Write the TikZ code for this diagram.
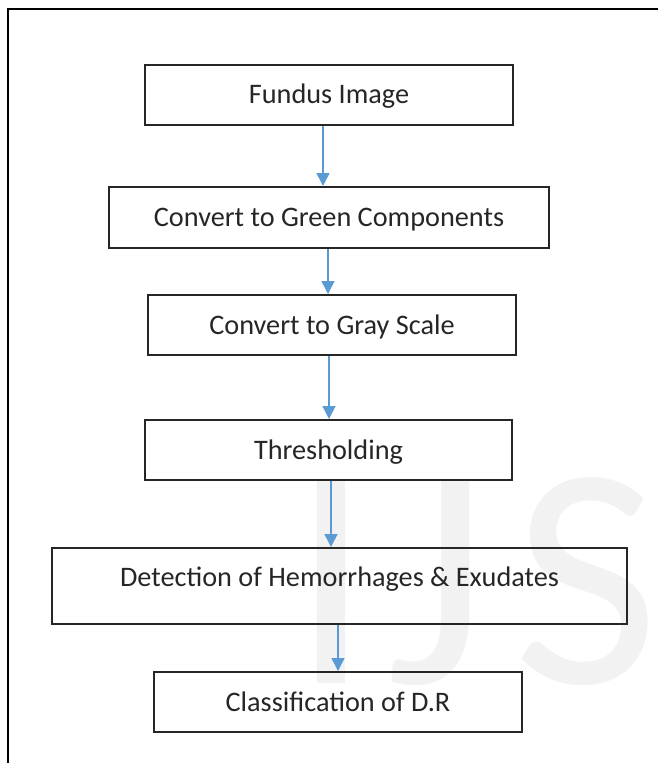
\documentclass[tikz,border=0pt]{standalone}
\usepackage{fontspec}
\setmainfont{Carlito}
\usetikzlibrary{arrows.meta}
\definecolor{arrblue}{RGB}{91,155,213}
\definecolor{wmgray}{RGB}{242,242,242}
\begin{document}
\begin{tikzpicture}[x=0.75pt,y=-0.75pt,
  stepbox/.style={draw=black!85, line width=1.5pt, minimum height=45pt, inner xsep=0pt,
    inner ysep=0pt, text height=29.25pt, text depth=15.75pt,
    font=\fontsize{21.2}{25}\selectfont, text=black!85},
  arr/.style={draw=arrblue, line width=1.125pt, -{Triangle[width=9.75pt,length=9.75pt]}, arrblue}]
\useasboundingbox (0,0) rectangle (657,763);
% watermark
\node[anchor=base west, text=wmgray, font=\fontsize{238}{238}\selectfont, inner sep=0pt] (wm) at (291,683) {I\kern11.25pt J\kern19.5pt S};
% frame
\draw[line width=1.5pt, black] (8,775) -- (8,9) -- (670,9);
% boxes
\node[stepbox, minimum width=276pt] (b1) at (329,95) {Fundus Image};
\node[stepbox, minimum width=330pt, minimum height=45.75pt] (b2) at (329,217.5) {Convert to Green Components};
\node[stepbox, minimum width=276pt] (b3) at (332,325) {Convert to Gray Scale};
\node[stepbox, minimum width=275.25pt] (b4) at (328.5,450) {Thresholding};
\node[stepbox, minimum width=431.25pt, minimum height=57pt, text height=28.5pt, text depth=28.5pt] (b5) at (339.5,586) {Detection of Hemorrhages \& Exudates};
\node[stepbox, minimum width=276pt] (b6) at (338,702) {Classification of D.R};
% arrows
\draw[arr] ([xshift=-4.5pt]b1.south) -- ([xshift=-4.5pt]b1.south |- b2.north);
\draw[arr] ([xshift=-0.75pt]b2.south) -- ([xshift=-0.75pt]b2.south |- b3.north);
\draw[arr] ([xshift=-2.25pt]b3.south) -- ([xshift=-2.25pt]b3.south |- b4.north);
\draw[arr] ([xshift=1.875pt]b4.south) -- ([xshift=1.875pt]b4.south |- b5.north);
\draw[arr] ([xshift=-1.125pt]b5.south) -- ([xshift=-1.125pt]b5.south |- b6.north);
\end{tikzpicture}
\end{document}
